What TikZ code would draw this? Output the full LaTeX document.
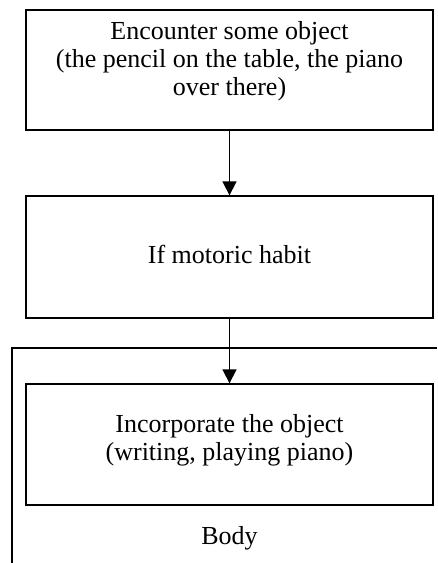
\documentclass[tikz,border=0pt]{standalone}
\usepackage{fontspec}
\setmainfont{Liberation Serif}
\usepackage{tikz}
\usetikzlibrary{arrows.meta, positioning}
\tikzset{
	stepbox/.style={draw, line width=1.4pt, rectangle, text width=407pt, align=flush center, inner sep=0pt},
	arrow/.style={line width=1.8pt, -{Triangle[width=14pt, length=14pt]}},
	>=latex
}

\begin{document}
\begin{tikzpicture}[x=1pt, y=-1pt, font=\fontsize{26}{28.3}\selectfont]
	% IMAGE SIZE
	\newcommand{\xMin}{0} \newcommand{\xMax}{437}
	\newcommand{\yMin}{0} \newcommand{\yMax}{563}
	\useasboundingbox (\xMin,\yMin) rectangle (\xMax,\yMax);
	
	% Body frame
	\draw[line width=1.4pt] (12,\yMax) -- (12,348) -- (\xMax,348);
	
	% Steps (placed by their first baseline)
	\node[stepbox, anchor=base, text height=29.3pt, text depth=90.7pt] (encounter) at (229.5,39.3) {Encounter some object\\(the pencil on the table, the piano\\over there)};
	\node[stepbox, anchor=base, text height=67pt, text depth=55pt] (habit) at (229.5,263) {If motoric habit};
	\node[stepbox, anchor=base, text height=48.5pt, text depth=72.5pt] (incorporate) at (229.5,432.5) {Incorporate the object\\(writing, playing piano)};
	
	% Body label
	\node[anchor=base] (body) at (229.5,544.3) {Body};
	
	% Arrows
	\draw[arrow] (encounter) -- (habit);
	\draw[arrow] (habit) -- (incorporate);
\end{tikzpicture}
\end{document}
